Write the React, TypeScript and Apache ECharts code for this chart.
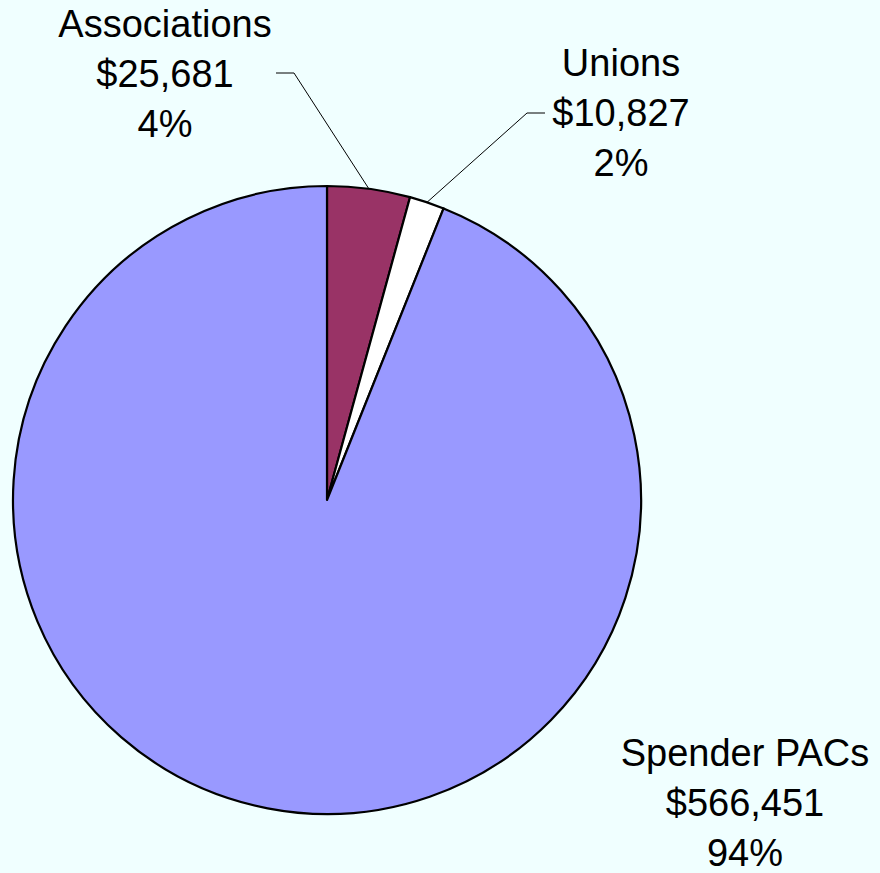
import React, { useEffect, useRef } from "react";
import * as echarts from "echarts";

const categories = ["Associations", "Unions", "Spender PACs"];
const values = [25681, 10827, 566451];
const colors = ["#993366", "#FFFFFF", "#9999FF"];

// label anchor positions (layout only)
const labelPos: [number, number][] = [
  [165, 74],
  [621, 113],
  [745, 803],
];
const elbowPos: ([number, number] | null)[] = [
  [294, 73],
  [527, 113],
  null,
];
const labelLineEnd: ([number, number] | null)[] = [
  [276, 73],
  [545, 113],
  null,
];

const CX = 327;
const CY = 500;
const R = 314;

export default function App() {
  const ref = useRef<HTMLDivElement>(null);
  useEffect(() => {
    if (!ref.current) return;
    const chart = echarts.init(ref.current, null, { renderer: "svg" });
    const total = values.reduce((a, b) => a + b, 0);
    const mids: number[] = [];
    let acc = 0;
    values.forEach((v) => {
      mids.push(((acc + v / 2) / total) * Math.PI * 2);
      acc += v;
    });
    chart.setOption({
      animation: false,
      backgroundColor: "#F0FFFF",
      series: [
        {
          type: "pie",
          center: [CX, CY],
          radius: R,
          startAngle: 90,
          clockwise: true,
          percentPrecision: 0,
          avoidLabelOverlap: false,
          itemStyle: { borderColor: "#000", borderWidth: 2.2 },
          emphasis: { disabled: true },
          label: {
            show: true,
            position: "outside",
            overflow: "none",
            fontFamily: "Liberation Sans, Arial, sans-serif",
            fontSize: 38,
            lineHeight: 50,
            color: "#000",
            align: "center",
            formatter: (p: any) =>
              `${p.name}\n$${Number(p.value).toLocaleString("en-US")}\n${p.percent}%`,
          },
          labelLine: {
            show: true,
            lineStyle: { color: "#000", width: 1 },
          },
          labelLayout: (params: any) => {
            const i = params.dataIndex;
            const a = mids[i];
            const res: any = {
              x: labelPos[i][0],
              y: labelPos[i][1],
              align: "center",
              verticalAlign: "middle",
            };
            if (elbowPos[i] && labelLineEnd[i]) {
              const sx = CX + R * Math.sin(a);
              const sy = CY - R * Math.cos(a);
              res.labelLinePoints = [[sx, sy], elbowPos[i], labelLineEnd[i]];
            }
            return res;
          },
          data: categories.map((name, i) => ({
            name,
            value: values[i],
            itemStyle: { color: colors[i] },
            labelLine: { show: elbowPos[i] !== null },
          })),
        },
      ],
    });
    return () => chart.dispose();
  }, []);
  return (
    <div
      ref={ref}
      style={{ position: "fixed", left: 0, top: 0, width: 880, height: 873 }}
    />
  );
}
